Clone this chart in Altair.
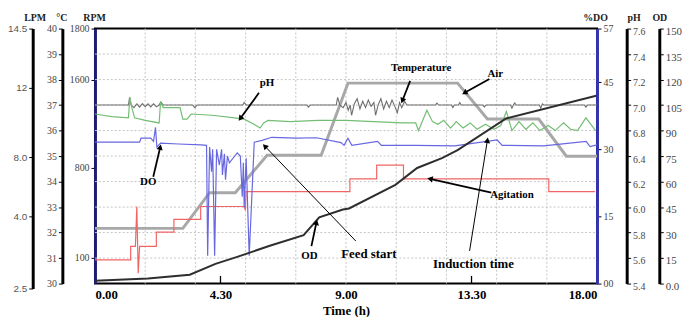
import math
import altair as alt
import pandas as pd

# ---------------- data ----------------
x_ticks = [0, 4.5, 9, 13.5, 18]
x_tick_labels = ["0.00", "4.30", "9.00", "13.30", "18.00"]

# Air (LPM)
air_t = [0, 3.15, 4.11, 5.03, 6.17, 8.11, 9.07, 13.0, 14.07, 15.91, 16.9, 18]
air_lpm = [3.75, 3.75, 5.6, 5.6, 8.1, 8.1, 12.2, 12.2, 10.2, 10.2, 8.05, 8.05]

# Agitation (RPM)
ag_t = [0, 1.28, 1.28, 1.45, 1.50, 1.55, 1.60, 2.20, 2.20, 2.83, 2.83, 3.79, 3.79,
        5.35, 5.39, 5.42, 9.14, 9.14, 10.10, 10.10, 11.06, 11.06, 16.27, 16.27, 17.93]
ag_rpm = [85, 85, 190, 190, 500, -20, 190, 190, 300, 300, 400, 400, 500,
          500, 470, 615, 615, 715, 715, 825, 825, 715, 715, 615, 615]

# Temperature (deg C)
temp_t = [0, 1.2, 1.24, 1.3, 1.4, 1.5, 1.6, 1.7, 1.8, 1.9, 2.0, 2.1, 2.2, 2.3, 2.36, 2.45,
          3.5, 3.58, 3.66, 5.3, 5.35, 5.42, 7.6, 7.65, 7.72, 8.65, 8.70, 8.78, 8.9, 9.0,
          9.08, 9.15, 9.2, 9.3, 9.4, 9.5, 9.6, 9.7, 9.8, 9.9, 10.0, 10.06, 10.15, 10.25,
          10.35, 10.45, 10.55, 10.65, 10.75, 10.84, 10.92, 11.0, 11.1, 11.18, 12.2, 12.26,
          12.32, 12.78, 12.83, 12.88, 13.03, 13.08, 13.13, 13.9, 13.96, 14.02, 14.9, 14.95,
          15.0, 15.05, 15.1, 15.93, 15.98, 16.04, 16.1, 17.55, 17.6, 17.66, 18.0]
temp_c = [37.0, 37.0, 37.3, 37.0, 36.9, 37.05, 36.92, 37.06, 36.94, 37.05, 36.93, 37.05,
          36.93, 37.0, 37.12, 37.0, 37.0, 36.9, 37.0, 37.0, 37.1, 37.0, 37.0, 36.92, 37.0,
          37.0, 37.3, 37.0, 36.9, 37.1, 36.8, 37.0, 36.6, 37.05, 37.25, 36.85, 37.15, 36.9,
          37.2, 36.95, 37.1, 36.6, 37.0, 37.25, 36.85, 37.15, 36.9, 37.2, 36.95, 36.7, 37.1,
          36.9, 37.15, 37.0, 37.0, 37.08, 37.0, 37.0, 36.9, 37.0, 37.0, 37.1, 37.0, 37.0,
          36.93, 37.0, 37.0, 36.88, 37.0, 37.08, 37.0, 37.0, 36.88, 37.05, 37.0, 37.0,
          36.92, 37.0, 37.0]

# pH
ph_t = [0, 0.6, 1.2, 1.25, 1.3, 1.42, 1.8, 2.3, 2.35, 2.45, 3.05, 3.15, 3.3, 3.45, 4.2,
        5.0, 5.35, 5.7, 5.92, 6.05, 6.2, 7.0, 8.0, 9.0, 10.0, 11.0, 11.5, 11.6, 11.9, 12.1,
        12.3, 12.5, 12.75, 12.95, 13.2, 13.45, 13.7, 14.0, 14.3, 14.55, 14.75, 14.95, 15.2,
        15.45, 15.7, 15.95, 16.25, 16.5, 16.8, 17.05, 17.3, 17.6, 17.95]
ph_v = [6.93, 6.91, 6.90, 7.06, 7.0, 6.90, 6.88, 6.86, 7.02, 6.98, 6.98, 6.89, 6.89, 6.93,
        6.92, 6.90, 6.89, 6.85, 6.82, 6.86, 6.88, 6.87, 6.88, 6.88, 6.87, 6.86, 6.86, 6.80,
        6.96, 6.87, 6.85, 6.88, 6.82, 6.87, 6.82, 6.86, 6.81, 6.85, 6.81, 6.84, 6.95, 6.80,
        6.87, 6.81, 6.86, 6.80, 6.84, 6.80, 6.86, 6.81, 6.80, 6.90, 6.80]

# Dissolved oxygen (%DO)
do_t = [0, 1.6, 1.65, 2.0, 2.1, 2.17, 2.22, 2.35, 3.0, 3.8, 4.0, 4.04, 4.11, 4.18, 4.22,
        4.29, 4.36, 4.46, 4.54, 4.57, 4.64, 4.68, 4.75, 4.82, 5.10, 5.21, 5.28, 5.32, 5.35,
        5.42, 5.53, 5.71, 5.99, 6.34, 7.23, 7.94, 8.82, 8.93, 9.07, 9.21, 10.13, 10.27,
        11.48, 12.9, 14.42, 14.6, 16.09, 17.61, 17.75, 18.0]
do_v = [31.6, 31.6, 32.5, 32.5, 31.8, 34.9, 30.5, 31.4, 31.2, 31.0, 30.9, 6.2, 30.5, 25.0,
        30.0, 6.2, 30.0, 26.5, 30.0, 24.3, 29.0, 23.2, 28.5, 27.0, 29.2, 28.5, 19.4, 27.0,
        17.0, 28.0, 6.2, 31.6, 32.0, 32.7, 32.5, 32.6, 31.5, 30.9, 32.5, 30.9, 31.8, 30.9,
        30.9, 30.8, 32.1, 30.9, 30.8, 31.8, 30.6, 31.0]

# Optical density (OD)
od_t = [0, 1.9, 3.40, 4.32, 5.10, 6.24, 7.48, 8.04, 8.89, 9.11, 10.77, 11.55, 12.44, 13.0,
        14.74, 17.97]
od_v = [1.7, 3.0, 5.2, 11.6, 15.7, 22.1, 28.5, 39.0, 43.6, 44.2, 58.1, 68.0, 73.8, 78.5,
        97.1, 110.5]

# grid positions
grid_t = [1.8, 3.6, 5.4, 7.2, 9.0, 10.8, 12.6, 14.4, 16.2]
grid_c = [31, 32, 33, 34, 35, 36, 37, 38, 39]

# annotations (time, position on the deg C scale)
ann_text = ["pH", "DO", "Temperature", "Air", "OD", "Agitation"]
ann_t = [6.17, 1.91, 11.69, 14.35, 7.69, 14.95]
ann_c = [37.87, 33.99, 38.45, 38.22, 31.09, 33.49]
big_text = ["Feed start", "Induction time"]
big_t = [9.82, 13.57]
big_c = [31.16, 30.78]

arrow_tail_t = [5.88, 2.09, 11.30, 14.14, 7.76, 14.21, 9.35, 13.43]
arrow_tail_c = [37.48, 34.19, 37.95, 38.02, 31.47, 33.57, 31.67, 31.28]
arrow_tip_t = [5.21, 2.34, 11.02, 13.25, 7.94, 12.01, 6.09, 14.07]
arrow_tip_c = [36.47, 35.35, 37.17, 37.48, 32.40, 34.11, 35.39, 35.62]

# axis tick labels
lpm_ticks = [2.5, 4, 8, 12, 14.5]
lpm_labels = ["2.5", "4.0", "8.0", "12", "14.5"]
c_ticks = [30, 31, 32, 33, 34, 35, 36, 37, 38, 39, 40]
rpm_ticks = [100, 800, 1600, 1800]
do_ticks = [0, 15, 30, 45, 57]
do_labels = ["00", "15", "30", "45", "57"]
ph_ticks = [5.4, 5.6, 5.8, 6.0, 6.2, 6.4, 6.8, 7.0, 7.2, 7.4, 7.6]
od_ticks = [0, 15, 30, 45, 60, 75, 90, 105, 120, 135, 150]

# ---------------- layout ----------------
W, H = 508, 258
SERIF = "Liberation Serif"


def label_expr(values, labels):
    parts = [f"datum.value == {v} ? '{l}'" for v, l in zip(values, labels)]
    return " : ".join(parts) + " : datum.label"


x_axis = alt.Axis(values=x_ticks, labelExpr=label_expr(x_ticks, x_tick_labels),
                  orient="bottom", domain=False, ticks=False, grid=False,
                  labelFont=SERIF, labelFontWeight="bold", labelFontSize=13,
                  labelColor="black", labelPadding=5, labelFlush=True,
                  title="Time (h)", titleFont=SERIF, titleFontWeight="bold",
                  titleFontSize=13, titleColor="black", titlePadding=3)
x_scale = alt.Scale(domain=[0, 18], nice=False, zero=False)
X = alt.X("t:Q", scale=x_scale, axis=x_axis)


def vaxis(title, orient, offset, values, title_x, label_font=SERIF, label_size=10,
          domain_color="black", domain_width=3, expr=None, fmt=None, label_color="#444",
          label_offset=0):
    kw = dict(title=title, orient=orient, offset=offset, values=values, titleAngle=0,
              titleX=title_x, titleY=-8, titleAlign="center", titleBaseline="alphabetic",
              titleFont=SERIF, titleFontWeight="bold", titleFontSize=10, titleColor="#222",
              labelFont=label_font, labelFontSize=label_size, labelColor=label_color,
              domainColor=domain_color, domainWidth=domain_width, tickColor="black",
              tickSize=4, tickWidth=1, grid=False, labelPadding=2, labelOverlap=False,
              labelFlush=False, labelOffset=label_offset)
    if expr:
        kw["labelExpr"] = expr
    if fmt:
        kw["format"] = fmt
    return alt.Axis(**kw)


def cscale():
    return alt.Scale(domain=[30, 40], nice=False, zero=False)


def frame(t, v):
    return pd.DataFrame({"t": t, "v": v, "i": list(range(len(t)))})


# grid
grid_v = alt.Chart(pd.DataFrame({"t": grid_t})).mark_rule(
    color="#c4c4c4", strokeDash=[2, 2], strokeWidth=1).encode(
    x=X, y=alt.value(0), y2=alt.value(H))
grid_h = alt.Chart(pd.DataFrame({"c": grid_c})).mark_rule(
    color="#c4c4c4", strokeDash=[2, 2], strokeWidth=1).encode(
    y=alt.Y("c:Q", scale=cscale(), axis=None), x=alt.value(0), x2=alt.value(W))

# series
air = alt.Chart(frame(air_t, air_lpm)).mark_line(color="#a8a8a8", strokeWidth=3).encode(
    x=X, order="i:Q",
    y=alt.Y("v:Q", scale=alt.Scale(domain=[2.5, 4, 8, 12, 14.5], range=[263, 190, 130, 60, 0],
                                   nice=False, zero=False),
            axis=vaxis("LPM", "left", 63, lpm_ticks, 2, label_font="Liberation Sans",
                       expr=label_expr(lpm_ticks, lpm_labels), label_color="#555")))

agit = alt.Chart(frame(ag_t, ag_rpm)).mark_line(color="#f26464", strokeWidth=1.2).encode(
    x=X, order="i:Q",
    y=alt.Y("v:Q", scale=alt.Scale(domain=[-100, 100, 800, 1600, 1800],
                                   range=[258, 232, 141, 52, 0], nice=False, zero=False),
            axis=vaxis("RPM", "left", 0, rpm_ticks, -1, domain_color="#1c1c70",
                       domain_width=3, fmt="d")))

temp = alt.Chart(frame(temp_t, temp_c)).mark_line(color="#6e6e6e", strokeWidth=1.1).encode(
    x=X, order="i:Q",
    y=alt.Y("v:Q", scale=cscale(),
            axis=vaxis("°C", "left", 33, c_ticks, -1, fmt="d")))

ph = alt.Chart(frame(ph_t, ph_v)).mark_line(color="#74bd74", strokeWidth=1.2).encode(
    x=X, order="i:Q",
    y=alt.Y("v:Q", scale=alt.Scale(domain=[5.4, 6.4, 6.8, 7.6], range=[258, 129, 103.2, 0],
                                   nice=False, zero=False),
            axis=vaxis("pH", "right", 30, ph_ticks, 7, fmt=".1f", label_offset=3)))

do = alt.Chart(frame(do_t, do_v)).mark_line(color="#6767e0", strokeWidth=1.2).encode(
    x=X, order="i:Q",
    y=alt.Y("v:Q", scale=alt.Scale(domain=[0, 57], nice=False, zero=False),
            axis=vaxis("%DO", "right", 0, do_ticks, -2, domain_color="#3535b0",
                       expr=label_expr(do_ticks, do_labels))))

od = alt.Chart(frame(od_t, od_v)).mark_line(color="#2e2e2e", strokeWidth=2).encode(
    x=X, order="i:Q",
    y=alt.Y("v:Q", scale=alt.Scale(domain=[0, 150], nice=False, zero=False),
            axis=vaxis("OD", "right", 63, od_ticks, 0, label_size=11, label_offset=3,
                       expr="datum.value == 0 ? '0.0' : datum.label")))

# annotations
arrows = pd.DataFrame({"t": arrow_tail_t, "c": arrow_tail_c,
                       "t2": arrow_tip_t, "c2": arrow_tip_c})
arrows["ang"] = [
    math.degrees(math.atan2((b - a) / 18 * W, (d - c) / 10 * H)) % 360
    for a, b, c, d in zip(arrows["t"], arrows["t2"], arrows["c"], arrows["c2"])
]
thick = arrows.iloc[:6]
thin = arrows.iloc[6:]

arrow_thick = alt.Chart(thick).mark_rule(color="black", strokeWidth=1.8).encode(
    x=X, x2="t2:Q", y=alt.Y("c:Q", scale=cscale(), axis=None), y2="c2:Q")
arrow_thin = alt.Chart(thin).mark_rule(color="black", strokeWidth=1).encode(
    x=X, x2="t2:Q", y=alt.Y("c:Q", scale=cscale(), axis=None), y2="c2:Q")
heads = alt.Chart(arrows).mark_point(shape="triangle-up", filled=True, color="black",
                                     size=40, opacity=1).encode(
    x=alt.X("t2:Q", scale=x_scale, axis=x_axis),
    y=alt.Y("c2:Q", scale=cscale(), axis=None),
    angle=alt.Angle("ang:Q", scale=None))

small_txt = alt.Chart(pd.DataFrame({"t": ann_t, "c": ann_c, "label": ann_text})).mark_text(
    font=SERIF, fontWeight="bold", fontSize=11, color="black", align="center",
    baseline="middle").encode(
    x=X, y=alt.Y("c:Q", scale=cscale(), axis=None), text="label:N")
big_txt = alt.Chart(pd.DataFrame({"t": big_t, "c": big_c, "label": big_text})).mark_text(
    font=SERIF, fontWeight="bold", fontSize=13, color="black", align="center",
    baseline="middle").encode(
    x=X, y=alt.Y("c:Q", scale=cscale(), axis=None), text="label:N")

xticks_marks = alt.Chart(pd.DataFrame({"t": [4.5, 13.5], "c": [30, 30], "c2": [30.3, 30.3]})
                         ).mark_rule(color="black", strokeWidth=1.3).encode(
    x=X, y=alt.Y("c:Q", scale=cscale(), axis=None), y2="c2:Q")

chart = alt.layer(
    grid_v, grid_h, air, agit, temp, ph, do, od,
    arrow_thick, arrow_thin, heads, small_txt, big_txt, xticks_marks
).resolve_scale(y="independent").properties(
    width=W, height=H,
    autosize=alt.AutoSizeParams(type="none"),
    padding={"left": 88, "top": 19, "right": 89, "bottom": 32},
    background="white",
).configure_view(stroke="black", strokeWidth=2)

chart.save("out.html", embed_options={"renderer": "svg", "actions": False})
